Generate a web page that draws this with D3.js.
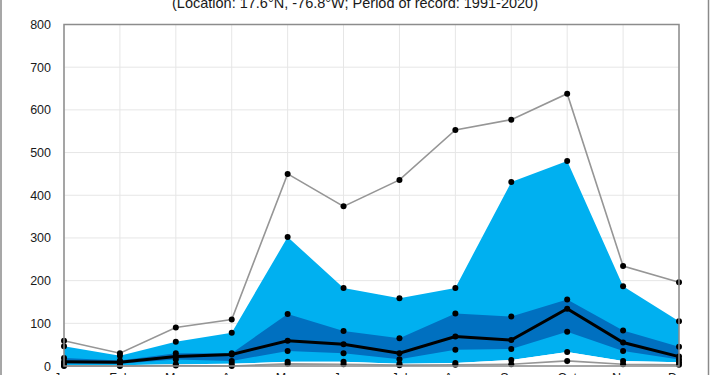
<!DOCTYPE html>
<html>
<head>
<meta charset="utf-8">
<script src="https://cdn.jsdelivr.net/npm/d3@7"></script>
<style>
  body { margin: 0; background: #fff; }
  svg { display: block; font-family: "Liberation Sans", Arial, sans-serif; }
</style>
</head>
<body>
<script>
var months = ["Jan", "Feb", "Mar", "Apr", "May", "Jun", "Jul", "Aug", "Sep", "Oct", "Nov", "Dec"];
var maxVals = [59, 30, 90, 109, 450, 374, 436, 553, 577, 638, 234, 196];
var p90 = [46, 24, 57, 78, 302, 183, 159, 183, 431, 480, 187, 105];
var p75 = [19, 13, 30, 30, 122, 82, 65, 123, 116, 156, 83, 45];
var median = [10, 9, 22, 27, 59, 51, 30, 69, 61, 134, 55, 22];
var p25 = [6, 5, 15, 12, 35, 30, 16, 38, 40, 80, 35, 15];
var p10 = [2, 2, 4, 5, 10, 10, 5, 7, 14, 33, 12, 9];
var minVals = [0, 0, 1, 0, 5, 4, 2, 3, 4, 12, 4, 3];
var yTicks = [0, 100, 200, 300, 400, 500, 600, 700, 800];
var title = "(Location: 17.6°N, -76.8°W; Period of record: 1991-2020)";

var width = 710;
var height = 375;
// "top" is taken by window.top, so use other names
var plotL = 64, plotR = 679, plotT = 24.5, plotB = 366;

var svg = d3.select("body").append("svg")
	.attr("width", width)
	.attr("height", height);

var x = d3.scalePoint().domain(months).range([plotL, plotR]);
var y = d3.scaleLinear().domain([0, 800]).range([plotB, plotT]);

// outer chart border (only sides visible)
svg.append("rect")
	.attr("x", 1).attr("y", -10)
	.attr("width", 707.5).attr("height", 400)
	.attr("fill", "none").attr("stroke", "#8a8a8a").attr("stroke-width", 1.5);

// title (cut at top)
svg.append("text")
	.attr("x", 355).attr("y", 8)
	.attr("text-anchor", "middle")
	.attr("font-size", 14.5)
	.attr("fill", "#1a1a1a")
	.text(title);

// grid
svg.append("g").selectAll("line").data(yTicks).enter().append("line")
	.attr("x1", plotL).attr("x2", plotR)
	.attr("y1", function(d){ return y(d); }).attr("y2", function(d){ return y(d); })
	.attr("stroke", "#e6e6e6");
svg.append("g").selectAll("line").data(months).enter().append("line")
	.attr("x1", function(d){ return x(d); }).attr("x2", function(d){ return x(d); })
	.attr("y1", plotT).attr("y2", plotB)
	.attr("stroke", "#e6e6e6");

var rows = months.map(function(m, i){
	return {m: m, max: maxVals[i], p90: p90[i], p75: p75[i], med: median[i], p25: p25[i], p10: p10[i], min: minVals[i]};
});

function band(lo, hi){
	return d3.area()
		.x(function(d){ return x(d.m); })
		.y0(function(d){ return y(d[lo]); })
		.y1(function(d){ return y(d[hi]); });
}
function line(key){
	return d3.line()
		.x(function(d){ return x(d.m); })
		.y(function(d){ return y(d[key]); });
}

svg.append("path").datum(rows).attr("d", band("p10", "p90")).attr("fill", "#00b0f0");
svg.append("path").datum(rows).attr("d", band("p25", "p75")).attr("fill", "#0070c0");
svg.append("path").datum(rows).attr("d", band("min", "p10")).attr("fill", "#ffffff");

svg.append("path").datum(rows).attr("d", line("max"))
	.attr("fill", "none").attr("stroke", "#969696").attr("stroke-width", 1.6);
svg.append("path").datum(rows).attr("d", line("min"))
	.attr("fill", "none").attr("stroke", "#969696").attr("stroke-width", 1.6);
svg.append("path").datum(rows).attr("d", line("med"))
	.attr("fill", "none").attr("stroke", "#000").attr("stroke-width", 3);

// dots on every series
var keys = ["max", "p90", "p75", "med", "p25", "p10", "min"];
keys.forEach(function(k){
	svg.append("g").selectAll("circle").data(rows).enter().append("circle")
		.attr("cx", function(d){ return x(d.m); })
		.attr("cy", function(d){ return y(d[k]); })
		.attr("r", 3)
		.attr("fill", "#000");
});

// plot frame
svg.append("rect")
	.attr("x", plotL).attr("y", plotT)
	.attr("width", plotR - plotL).attr("height", plotB - plotT)
	.attr("fill", "none").attr("stroke", "#8c8c8c").attr("stroke-width", 1.5);

// y axis labels
svg.append("g").selectAll("text").data(yTicks).enter().append("text")
	.attr("x", 51)
	.attr("y", function(d){ return y(d) + 4.5; })
	.attr("text-anchor", "end")
	.attr("font-size", 12.5)
	.attr("fill", "#1a1a1a")
	.text(function(d){ return d; });

// x axis labels (mostly below the visible area)
svg.append("g").selectAll("text").data(months).enter().append("text")
	.attr("x", function(d){ return x(d); })
	.attr("y", 381.5)
	.attr("text-anchor", "middle")
	.attr("font-size", 12.5)
	.attr("fill", "#1a1a1a")
	.text(function(d){ return d; });
</script>
</body>
</html>
